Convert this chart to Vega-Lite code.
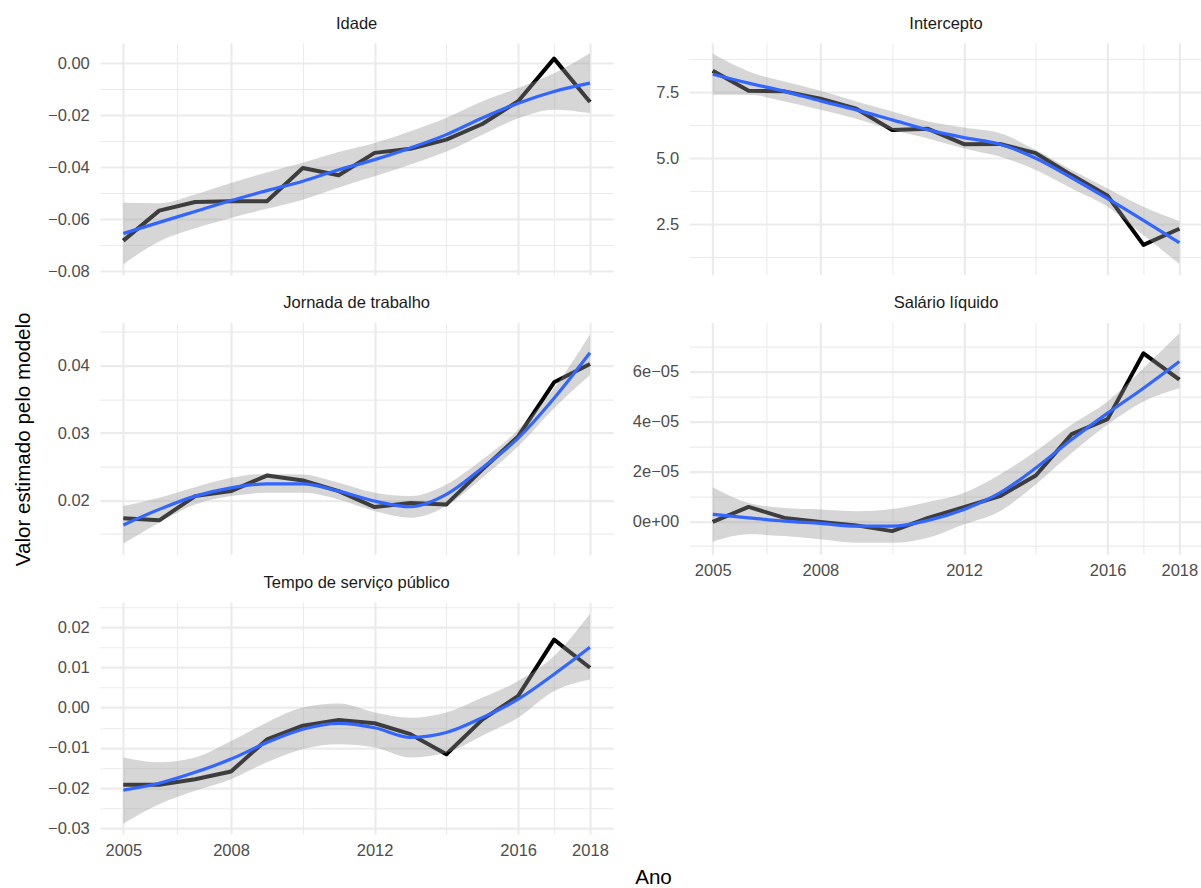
{
  "$schema": "https://vega.github.io/schema/vega-lite/v6.json",
  "padding": {"left": 13, "top": 15, "right": 0, "bottom": 0},
  "background": "white",
  "columns": 2,
  "spacing": {"row": 47.6, "column": 75.4},
  "bounds": "flush",
  "datasets": {
    "observado": [
      {"painel": "Idade", "ano": 2005, "valor": -0.0682},
      {"painel": "Idade", "ano": 2006, "valor": -0.0567},
      {"painel": "Idade", "ano": 2007, "valor": -0.0534},
      {"painel": "Idade", "ano": 2008, "valor": -0.0531},
      {"painel": "Idade", "ano": 2009, "valor": -0.0531},
      {"painel": "Idade", "ano": 2010, "valor": -0.0403},
      {"painel": "Idade", "ano": 2011, "valor": -0.0431},
      {"painel": "Idade", "ano": 2012, "valor": -0.0345},
      {"painel": "Idade", "ano": 2013, "valor": -0.0329},
      {"painel": "Idade", "ano": 2014, "valor": -0.0294},
      {"painel": "Idade", "ano": 2015, "valor": -0.0234},
      {"painel": "Idade", "ano": 2016, "valor": -0.0147},
      {"painel": "Idade", "ano": 2017, "valor": 0.0017},
      {"painel": "Idade", "ano": 2018, "valor": -0.0150},
      {"painel": "Intercepto", "ano": 2005, "valor": 8.31},
      {"painel": "Intercepto", "ano": 2006, "valor": 7.55},
      {"painel": "Intercepto", "ano": 2007, "valor": 7.53},
      {"painel": "Intercepto", "ano": 2008, "valor": 7.25},
      {"painel": "Intercepto", "ano": 2009, "valor": 6.87},
      {"painel": "Intercepto", "ano": 2010, "valor": 6.07},
      {"painel": "Intercepto", "ano": 2011, "valor": 6.11},
      {"painel": "Intercepto", "ano": 2012, "valor": 5.53},
      {"painel": "Intercepto", "ano": 2013, "valor": 5.54},
      {"painel": "Intercepto", "ano": 2014, "valor": 5.19},
      {"painel": "Intercepto", "ano": 2015, "valor": 4.36},
      {"painel": "Intercepto", "ano": 2016, "valor": 3.58},
      {"painel": "Intercepto", "ano": 2017, "valor": 1.72},
      {"painel": "Intercepto", "ano": 2018, "valor": 2.33},
      {"painel": "Jornada de trabalho", "ano": 2005, "valor": 0.01734},
      {"painel": "Jornada de trabalho", "ano": 2006, "valor": 0.01704},
      {"painel": "Jornada de trabalho", "ano": 2007, "valor": 0.02064},
      {"painel": "Jornada de trabalho", "ano": 2008, "valor": 0.02138},
      {"painel": "Jornada de trabalho", "ano": 2009, "valor": 0.02369},
      {"painel": "Jornada de trabalho", "ano": 2010, "valor": 0.02296},
      {"painel": "Jornada de trabalho", "ano": 2011, "valor": 0.02138},
      {"painel": "Jornada de trabalho", "ano": 2012, "valor": 0.01901},
      {"painel": "Jornada de trabalho", "ano": 2013, "valor": 0.01960},
      {"painel": "Jornada de trabalho", "ano": 2014, "valor": 0.01941},
      {"painel": "Jornada de trabalho", "ano": 2015, "valor": 0.02458},
      {"painel": "Jornada de trabalho", "ano": 2016, "valor": 0.02951},
      {"painel": "Jornada de trabalho", "ano": 2017, "valor": 0.03754},
      {"painel": "Jornada de trabalho", "ano": 2018, "valor": 0.04025},
      {"painel": "Salário líquido", "ano": 2005, "valor": -0.0000003},
      {"painel": "Salário líquido", "ano": 2006, "valor": 0.0000057},
      {"painel": "Salário líquido", "ano": 2007, "valor": 0.0000013},
      {"painel": "Salário líquido", "ano": 2008, "valor": -0.0000003},
      {"painel": "Salário líquido", "ano": 2009, "valor": -0.0000017},
      {"painel": "Salário líquido", "ano": 2010, "valor": -0.0000040},
      {"painel": "Salário líquido", "ano": 2011, "valor": 0.0000013},
      {"painel": "Salário líquido", "ano": 2012, "valor": 0.0000056},
      {"painel": "Salário líquido", "ano": 2013, "valor": 0.0000100},
      {"painel": "Salário líquido", "ano": 2014, "valor": 0.0000183},
      {"painel": "Salário líquido", "ano": 2015, "valor": 0.0000349},
      {"painel": "Salário líquido", "ano": 2016, "valor": 0.0000409},
      {"painel": "Salário líquido", "ano": 2017, "valor": 0.0000673},
      {"painel": "Salário líquido", "ano": 2018, "valor": 0.0000567},
      {"painel": "Tempo de serviço público", "ano": 2005, "valor": -0.0192},
      {"painel": "Tempo de serviço público", "ano": 2006, "valor": -0.0192},
      {"painel": "Tempo de serviço público", "ano": 2007, "valor": -0.0178},
      {"painel": "Tempo de serviço público", "ano": 2008, "valor": -0.0159},
      {"painel": "Tempo de serviço público", "ano": 2009, "valor": -0.0079},
      {"painel": "Tempo de serviço público", "ano": 2010, "valor": -0.0045},
      {"painel": "Tempo de serviço público", "ano": 2011, "valor": -0.0031},
      {"painel": "Tempo de serviço público", "ano": 2012, "valor": -0.0039},
      {"painel": "Tempo de serviço público", "ano": 2013, "valor": -0.0066},
      {"painel": "Tempo de serviço público", "ano": 2014, "valor": -0.0116},
      {"painel": "Tempo de serviço público", "ano": 2015, "valor": -0.0030},
      {"painel": "Tempo de serviço público", "ano": 2016, "valor": 0.0029},
      {"painel": "Tempo de serviço público", "ano": 2017, "valor": 0.0169},
      {"painel": "Tempo de serviço público", "ano": 2018, "valor": 0.0099}
    ],
    "suavizado": [
      {"painel": "Idade", "ano": 2005, "ajuste": -0.0655, "inf": -0.0773, "sup": -0.0537},
      {"painel": "Idade", "ano": 2006, "ajuste": -0.0612, "inf": -0.0685, "sup": -0.0539},
      {"painel": "Idade", "ano": 2007, "ajuste": -0.0570, "inf": -0.0635, "sup": -0.0505},
      {"painel": "Idade", "ano": 2008, "ajuste": -0.0528, "inf": -0.0595, "sup": -0.0461},
      {"painel": "Idade", "ano": 2009, "ajuste": -0.0490, "inf": -0.0560, "sup": -0.0420},
      {"painel": "Idade", "ano": 2010, "ajuste": -0.0454, "inf": -0.0525, "sup": -0.0383},
      {"painel": "Idade", "ano": 2011, "ajuste": -0.0410, "inf": -0.0478, "sup": -0.0342},
      {"painel": "Idade", "ano": 2012, "ajuste": -0.0371, "inf": -0.0435, "sup": -0.0307},
      {"painel": "Idade", "ano": 2013, "ajuste": -0.0326, "inf": -0.0390, "sup": -0.0262},
      {"painel": "Idade", "ano": 2014, "ajuste": -0.0275, "inf": -0.0340, "sup": -0.0210},
      {"painel": "Idade", "ano": 2015, "ajuste": -0.0211, "inf": -0.0275, "sup": -0.0147},
      {"painel": "Idade", "ano": 2016, "ajuste": -0.0154, "inf": -0.0212, "sup": -0.0096},
      {"painel": "Idade", "ano": 2017, "ajuste": -0.0109, "inf": -0.0179, "sup": -0.0039},
      {"painel": "Idade", "ano": 2018, "ajuste": -0.0077, "inf": -0.0192, "sup": 0.0038},
      {"painel": "Intercepto", "ano": 2005, "ajuste": 8.18, "inf": 7.40, "sup": 8.96},
      {"painel": "Intercepto", "ano": 2006, "ajuste": 7.84, "inf": 7.40, "sup": 8.28},
      {"painel": "Intercepto", "ano": 2007, "ajuste": 7.53, "inf": 7.15, "sup": 7.90},
      {"painel": "Intercepto", "ano": 2008, "ajuste": 7.17, "inf": 6.83, "sup": 7.55},
      {"painel": "Intercepto", "ano": 2009, "ajuste": 6.83, "inf": 6.49, "sup": 7.15},
      {"painel": "Intercepto", "ano": 2010, "ajuste": 6.45, "inf": 6.07, "sup": 6.77},
      {"painel": "Intercepto", "ano": 2011, "ajuste": 6.07, "inf": 5.75, "sup": 6.39},
      {"painel": "Intercepto", "ano": 2012, "ajuste": 5.78, "inf": 5.37, "sup": 6.16},
      {"painel": "Intercepto", "ano": 2013, "ajuste": 5.53, "inf": 5.06, "sup": 5.94},
      {"painel": "Intercepto", "ano": 2014, "ajuste": 5.00, "inf": 4.55, "sup": 5.31},
      {"painel": "Intercepto", "ano": 2015, "ajuste": 4.26, "inf": 3.85, "sup": 4.55},
      {"painel": "Intercepto", "ano": 2016, "ajuste": 3.47, "inf": 3.16, "sup": 3.85},
      {"painel": "Intercepto", "ano": 2017, "ajuste": 2.65, "inf": 2.08, "sup": 3.16},
      {"painel": "Intercepto", "ano": 2018, "ajuste": 1.80, "inf": 1.00, "sup": 2.62},
      {"painel": "Jornada de trabalho", "ano": 2005, "ajuste": 0.01635, "inf": 0.01360, "sup": 0.01916},
      {"painel": "Jornada de trabalho", "ano": 2006, "ajuste": 0.01867, "inf": 0.01670, "sup": 0.02040},
      {"painel": "Jornada de trabalho", "ano": 2007, "ajuste": 0.02064, "inf": 0.01940, "sup": 0.02197},
      {"painel": "Jornada de trabalho", "ano": 2008, "ajuste": 0.02187, "inf": 0.02064, "sup": 0.02335},
      {"painel": "Jornada de trabalho", "ano": 2009, "ajuste": 0.02246, "inf": 0.02113, "sup": 0.02394},
      {"painel": "Jornada de trabalho", "ano": 2010, "ajuste": 0.02246, "inf": 0.02113, "sup": 0.02384},
      {"painel": "Jornada de trabalho", "ano": 2011, "ajuste": 0.02138, "inf": 0.02015, "sup": 0.02261},
      {"painel": "Jornada de trabalho", "ano": 2012, "ajuste": 0.01990, "inf": 0.01842, "sup": 0.02113},
      {"painel": "Jornada de trabalho", "ano": 2013, "ajuste": 0.01906, "inf": 0.01744, "sup": 0.02064},
      {"painel": "Jornada de trabalho", "ano": 2014, "ajuste": 0.02089, "inf": 0.01916, "sup": 0.02236},
      {"painel": "Jornada de trabalho", "ano": 2015, "ajuste": 0.02483, "inf": 0.02335, "sup": 0.02606},
      {"painel": "Jornada de trabalho", "ano": 2016, "ajuste": 0.02926, "inf": 0.02803, "sup": 0.03049},
      {"painel": "Jornada de trabalho", "ano": 2017, "ajuste": 0.03517, "inf": 0.03370, "sup": 0.03665},
      {"painel": "Jornada de trabalho", "ano": 2018, "ajuste": 0.04192, "inf": 0.03862, "sup": 0.04463},
      {"painel": "Salário líquido", "ano": 2005, "ajuste": 0.0000027, "inf": -0.0000083, "sup": 0.0000136},
      {"painel": "Salário líquido", "ano": 2006, "ajuste": 0.0000013, "inf": -0.0000053, "sup": 0.0000073},
      {"painel": "Salário líquido", "ano": 2007, "ajuste": 0.0000000, "inf": -0.0000060, "sup": 0.0000053},
      {"painel": "Salário líquido", "ano": 2008, "ajuste": -0.0000009, "inf": -0.0000073, "sup": 0.0000047},
      {"painel": "Salário líquido", "ano": 2009, "ajuste": -0.0000020, "inf": -0.0000087, "sup": 0.0000040},
      {"painel": "Salário líquido", "ano": 2010, "ajuste": -0.0000020, "inf": -0.0000087, "sup": 0.0000049},
      {"painel": "Salário líquido", "ano": 2011, "ajuste": 0.0000003, "inf": -0.0000067, "sup": 0.0000077},
      {"painel": "Salário líquido", "ano": 2012, "ajuste": 0.0000047, "inf": -0.0000013, "sup": 0.0000113},
      {"painel": "Salário líquido", "ano": 2013, "ajuste": 0.0000113, "inf": 0.0000040, "sup": 0.0000187},
      {"painel": "Salário líquido", "ano": 2014, "ajuste": 0.0000213, "inf": 0.0000147, "sup": 0.0000280},
      {"painel": "Salário líquido", "ano": 2015, "ajuste": 0.0000327, "inf": 0.0000273, "sup": 0.0000387},
      {"painel": "Salário líquido", "ano": 2016, "ajuste": 0.0000433, "inf": 0.0000387, "sup": 0.0000480},
      {"painel": "Salário líquido", "ano": 2017, "ajuste": 0.0000533, "inf": 0.0000480, "sup": 0.0000613},
      {"painel": "Salário líquido", "ano": 2018, "ajuste": 0.0000640, "inf": 0.0000533, "sup": 0.0000753},
      {"painel": "Tempo de serviço público", "ano": 2005, "ajuste": -0.0205, "inf": -0.0288, "sup": -0.0124},
      {"painel": "Tempo de serviço público", "ano": 2006, "ajuste": -0.0188, "inf": -0.0240, "sup": -0.0136},
      {"painel": "Tempo de serviço público", "ano": 2007, "ajuste": -0.0161, "inf": -0.0207, "sup": -0.0124},
      {"painel": "Tempo de serviço público", "ano": 2008, "ajuste": -0.0128, "inf": -0.0178, "sup": -0.0083},
      {"painel": "Tempo de serviço público", "ano": 2009, "ajuste": -0.0087, "inf": -0.0136, "sup": -0.0037},
      {"painel": "Tempo de serviço público", "ano": 2010, "ajuste": -0.0054, "inf": -0.0103, "sup": 0.0000},
      {"painel": "Tempo de serviço público", "ano": 2011, "ajuste": -0.0039, "inf": -0.0091, "sup": 0.0010},
      {"painel": "Tempo de serviço público", "ano": 2012, "ajuste": -0.0050, "inf": -0.0099, "sup": -0.0012},
      {"painel": "Tempo de serviço público", "ano": 2013, "ajuste": -0.0074, "inf": -0.0124, "sup": -0.0025},
      {"painel": "Tempo de serviço público", "ano": 2014, "ajuste": -0.0062, "inf": -0.0112, "sup": -0.0012},
      {"painel": "Tempo de serviço público", "ano": 2015, "ajuste": -0.0025, "inf": -0.0070, "sup": 0.0025},
      {"painel": "Tempo de serviço público", "ano": 2016, "ajuste": 0.0021, "inf": -0.0025, "sup": 0.0066},
      {"painel": "Tempo de serviço público", "ano": 2017, "ajuste": 0.0083, "inf": 0.0041, "sup": 0.0128},
      {"painel": "Tempo de serviço público", "ano": 2018, "ajuste": 0.0150, "inf": 0.0070, "sup": 0.0233}
    ]
  },
  "concat": [
    {
      "title": "Idade",
      "width": 513.3,
      "height": 231.7,
      "layer": [
        {
          "data": {"name": "observado"},
          "transform": [{"filter": "datum.painel === 'Idade'"}],
          "mark": {"type": "line", "color": "black", "strokeWidth": 4, "strokeJoin": "round"},
          "encoding": {
            "x": {"field": "ano", "type": "quantitative", "title": null,
              "scale": {"domain": [2004.35, 2018.65], "nice": false, "zero": false},
              "axis": {"values": [2005, 2006.5, 2008, 2010, 2012, 2014, 2016, 2017, 2018], "tickCount": 100, "labels": false,
                "gridWidth": {"condition": {"test": "indexof([2005,2008,2012,2016,2018], datum.value) >= 0", "value": 2.2}, "value": 1.1}}},
            "y": {"field": "valor", "type": "quantitative", "title": "Valor estimado pelo modelo",
              "scale": {"domain": [-0.0813, 0.0077], "nice": false, "zero": false},
              "axis": {"values": [-0.08, -0.07, -0.06, -0.05, -0.04, -0.03, -0.02, -0.01, 0], "tickCount": 100,
                "labelExpr": "indexof([-0.08,-0.06,-0.04,-0.02,0], datum.value) >= 0 ? format(datum.value, '.2f') : ''",
                "labelFontSize": {"condition": {"test": "indexof([-0.08,-0.06,-0.04,-0.02,0], datum.value) >= 0", "value": 16.5}, "value": 0},
                "titleX": -71, "titleY": 395.8, "titleBaseline": "alphabetic", "titleAlign": "center",
                "gridWidth": {"condition": {"test": "indexof([-0.08,-0.06,-0.04,-0.02,0], datum.value) >= 0", "value": 2.2}, "value": 1.1}}}
          }
        },
        {
          "data": {"name": "suavizado"},
          "transform": [{"filter": "datum.painel === 'Idade'"}],
          "mark": {"type": "area", "color": "#999999", "opacity": 0.4, "interpolate": "monotone"},
          "encoding": {
            "x": {"field": "ano", "type": "quantitative", "title": null},
            "y": {"field": "sup", "type": "quantitative", "title": "Valor estimado pelo modelo"},
            "y2": {"field": "inf"}
          }
        },
        {
          "data": {"name": "suavizado"},
          "transform": [{"filter": "datum.painel === 'Idade'"}],
          "mark": {"type": "line", "color": "#3366FF", "strokeWidth": 3.2, "interpolate": "monotone"},
          "encoding": {
            "x": {"field": "ano", "type": "quantitative", "title": null},
            "y": {"field": "ajuste", "type": "quantitative", "title": "Valor estimado pelo modelo"}
          }
        }
      ]
    },
    {
      "title": "Intercepto",
      "width": 513.3,
      "height": 231.7,
      "layer": [
        {
          "data": {"name": "observado"},
          "transform": [{"filter": "datum.painel === 'Intercepto'"}],
          "mark": {"type": "line", "color": "black", "strokeWidth": 4, "strokeJoin": "round"},
          "encoding": {
            "x": {"field": "ano", "type": "quantitative", "title": null,
              "scale": {"domain": [2004.35, 2018.65], "nice": false, "zero": false},
              "axis": {"values": [2005, 2006.5, 2008, 2010, 2012, 2014, 2016, 2017, 2018], "tickCount": 100, "labels": false,
                "gridWidth": {"condition": {"test": "indexof([2005,2008,2012,2016,2018], datum.value) >= 0", "value": 2.2}, "value": 1.1}}},
            "y": {"field": "valor", "type": "quantitative", "title": null,
              "scale": {"domain": [0.59, 9.36], "nice": false, "zero": false},
              "axis": {"values": [1.25, 2.5, 3.75, 5, 6.25, 7.5, 8.75], "tickCount": 100,
                "labelExpr": "indexof([2.5,5,7.5], datum.value) >= 0 ? format(datum.value, '.1f') : ''",
                "labelFontSize": {"condition": {"test": "indexof([2.5,5,7.5], datum.value) >= 0", "value": 16.5}, "value": 0},
                "gridWidth": {"condition": {"test": "indexof([2.5,5,7.5], datum.value) >= 0", "value": 2.2}, "value": 1.1}}}
          }
        },
        {
          "data": {"name": "suavizado"},
          "transform": [{"filter": "datum.painel === 'Intercepto'"}],
          "mark": {"type": "area", "color": "#999999", "opacity": 0.4, "interpolate": "monotone"},
          "encoding": {
            "x": {"field": "ano", "type": "quantitative", "title": null},
            "y": {"field": "sup", "type": "quantitative", "title": null},
            "y2": {"field": "inf"}
          }
        },
        {
          "data": {"name": "suavizado"},
          "transform": [{"filter": "datum.painel === 'Intercepto'"}],
          "mark": {"type": "line", "color": "#3366FF", "strokeWidth": 3.2, "interpolate": "monotone"},
          "encoding": {
            "x": {"field": "ano", "type": "quantitative", "title": null},
            "y": {"field": "ajuste", "type": "quantitative", "title": null}
          }
        }
      ]
    },
    {
      "title": "Jornada de trabalho",
      "width": 513.3,
      "height": 231.7,
      "layer": [
        {
          "data": {"name": "observado"},
          "transform": [{"filter": "datum.painel === 'Jornada de trabalho'"}],
          "mark": {"type": "line", "color": "black", "strokeWidth": 4, "strokeJoin": "round"},
          "encoding": {
            "x": {"field": "ano", "type": "quantitative", "title": null,
              "scale": {"domain": [2004.35, 2018.65], "nice": false, "zero": false},
              "axis": {"values": [2005, 2006.5, 2008, 2010, 2012, 2014, 2016, 2017, 2018], "tickCount": 100, "labels": false,
                "gridWidth": {"condition": {"test": "indexof([2005,2008,2012,2016,2018], datum.value) >= 0", "value": 2.2}, "value": 1.1}}},
            "y": {"field": "valor", "type": "quantitative", "title": null,
              "scale": {"domain": [0.0120, 0.0464], "nice": false, "zero": false},
              "axis": {"values": [0.015, 0.02, 0.025, 0.03, 0.035, 0.04, 0.045], "tickCount": 100,
                "labelExpr": "indexof([0.02,0.03,0.04], datum.value) >= 0 ? format(datum.value, '.2f') : ''",
                "labelFontSize": {"condition": {"test": "indexof([0.02,0.03,0.04], datum.value) >= 0", "value": 16.5}, "value": 0},
                "gridWidth": {"condition": {"test": "indexof([0.02,0.03,0.04], datum.value) >= 0", "value": 2.2}, "value": 1.1}}}
          }
        },
        {
          "data": {"name": "suavizado"},
          "transform": [{"filter": "datum.painel === 'Jornada de trabalho'"}],
          "mark": {"type": "area", "color": "#999999", "opacity": 0.4, "interpolate": "monotone"},
          "encoding": {
            "x": {"field": "ano", "type": "quantitative", "title": null},
            "y": {"field": "sup", "type": "quantitative", "title": null},
            "y2": {"field": "inf"}
          }
        },
        {
          "data": {"name": "suavizado"},
          "transform": [{"filter": "datum.painel === 'Jornada de trabalho'"}],
          "mark": {"type": "line", "color": "#3366FF", "strokeWidth": 3.2, "interpolate": "monotone"},
          "encoding": {
            "x": {"field": "ano", "type": "quantitative", "title": null},
            "y": {"field": "ajuste", "type": "quantitative", "title": null}
          }
        }
      ]
    },
    {
      "title": "Salário líquido",
      "width": 513.3,
      "height": 231.7,
      "layer": [
        {
          "data": {"name": "observado"},
          "transform": [{"filter": "datum.painel === 'Salário líquido'"}],
          "mark": {"type": "line", "color": "black", "strokeWidth": 4, "strokeJoin": "round"},
          "encoding": {
            "x": {"field": "ano", "type": "quantitative", "title": null,
              "scale": {"domain": [2004.35, 2018.65], "nice": false, "zero": false},
              "axis": {"values": [2005, 2006.5, 2008, 2010, 2012, 2014, 2016, 2017, 2018], "tickCount": 100,
                "labelExpr": "indexof([2005,2008,2012,2016,2018], datum.value) >= 0 ? format(datum.value, 'd') : ''",
                "gridWidth": {"condition": {"test": "indexof([2005,2008,2012,2016,2018], datum.value) >= 0", "value": 2.2}, "value": 1.1}}},
            "y": {"field": "valor", "type": "quantitative", "title": null,
              "scale": {"domain": [-0.0000133, 0.0000796], "nice": false, "zero": false},
              "axis": {"values": [-0.00001, 0, 0.00001, 0.00002, 0.00003, 0.00004, 0.00005, 0.00006, 0.00007], "tickCount": 100,
                "labelExpr": "indexof([0,0.00002,0.00004,0.00006], datum.value) >= 0 ? (datum.value === 0 ? '0e+00' : format(datum.value * 100000, '.0f') + 'e\u221205') : ''",
                "labelFontSize": {"condition": {"test": "indexof([0,0.00002,0.00004,0.00006], datum.value) >= 0", "value": 16.5}, "value": 0},
                "gridWidth": {"condition": {"test": "indexof([0,0.00002,0.00004,0.00006], datum.value) >= 0", "value": 2.2}, "value": 1.1}}}
          }
        },
        {
          "data": {"name": "suavizado"},
          "transform": [{"filter": "datum.painel === 'Salário líquido'"}],
          "mark": {"type": "area", "color": "#999999", "opacity": 0.4, "interpolate": "monotone"},
          "encoding": {
            "x": {"field": "ano", "type": "quantitative", "title": null},
            "y": {"field": "sup", "type": "quantitative", "title": null},
            "y2": {"field": "inf"}
          }
        },
        {
          "data": {"name": "suavizado"},
          "transform": [{"filter": "datum.painel === 'Salário líquido'"}],
          "mark": {"type": "line", "color": "#3366FF", "strokeWidth": 3.2, "interpolate": "monotone"},
          "encoding": {
            "x": {"field": "ano", "type": "quantitative", "title": null},
            "y": {"field": "ajuste", "type": "quantitative", "title": null}
          }
        }
      ]
    },
    {
      "title": "Tempo de serviço público",
      "width": 513.3,
      "height": 231.7,
      "layer": [
        {
          "data": {"name": "observado"},
          "transform": [{"filter": "datum.painel === 'Tempo de serviço público'"}],
          "mark": {"type": "line", "color": "black", "strokeWidth": 4, "strokeJoin": "round"},
          "encoding": {
            "x": {"field": "ano", "type": "quantitative", "title": "Ano",
              "scale": {"domain": [2004.35, 2018.65], "nice": false, "zero": false},
              "axis": {"values": [2005, 2006.5, 2008, 2010, 2012, 2014, 2016, 2017, 2018], "tickCount": 100,
                "labelExpr": "indexof([2005,2008,2012,2016,2018], datum.value) >= 0 ? format(datum.value, 'd') : ''",
                "titleX": 553, "titleY": 50, "titleBaseline": "alphabetic", "titleAlign": "center",
                "gridWidth": {"condition": {"test": "indexof([2005,2008,2012,2016,2018], datum.value) >= 0", "value": 2.2}, "value": 1.1}}},
            "y": {"field": "valor", "type": "quantitative", "title": null,
              "scale": {"domain": [-0.0314, 0.0262], "nice": false, "zero": false},
              "axis": {"values": [-0.03, -0.025, -0.02, -0.015, -0.01, -0.005, 0, 0.005, 0.01, 0.015, 0.02, 0.025], "tickCount": 100,
                "labelExpr": "indexof([-0.03,-0.02,-0.01,0,0.01,0.02], datum.value) >= 0 ? format(datum.value, '.2f') : ''",
                "labelFontSize": {"condition": {"test": "indexof([-0.03,-0.02,-0.01,0,0.01,0.02], datum.value) >= 0", "value": 16.5}, "value": 0},
                "gridWidth": {"condition": {"test": "indexof([-0.03,-0.02,-0.01,0,0.01,0.02], datum.value) >= 0", "value": 2.2}, "value": 1.1}}}
          }
        },
        {
          "data": {"name": "suavizado"},
          "transform": [{"filter": "datum.painel === 'Tempo de serviço público'"}],
          "mark": {"type": "area", "color": "#999999", "opacity": 0.4, "interpolate": "monotone"},
          "encoding": {
            "x": {"field": "ano", "type": "quantitative", "title": "Ano"},
            "y": {"field": "sup", "type": "quantitative", "title": null},
            "y2": {"field": "inf"}
          }
        },
        {
          "data": {"name": "suavizado"},
          "transform": [{"filter": "datum.painel === 'Tempo de serviço público'"}],
          "mark": {"type": "line", "color": "#3366FF", "strokeWidth": 3.2, "interpolate": "monotone"},
          "encoding": {
            "x": {"field": "ano", "type": "quantitative", "title": "Ano"},
            "y": {"field": "ajuste", "type": "quantitative", "title": null}
          }
        }
      ]
    }
  ],
  "config": {
    "view": {"stroke": null},
    "font": "Liberation Sans",
    "axis": {
      "domain": false,
      "ticks": false,
      "tickSize": 0,
      "gridColor": "#EBEBEB",
      "labelFont": "Liberation Sans",
      "labelFontSize": 16.5,
      "labelColor": "#4D4D4D",
      "labelOverlap": false,
      "labelFlush": false,
      "labelBound": false,
      "titleFont": "Liberation Sans",
      "titleFontSize": 20.6,
      "titleFontWeight": "normal",
      "titleColor": "black"
    },
    "axisY": {"labelPadding": 10.7, "labelBaseline": "middle"},
    "axisX": {"labelPadding": 21.5, "labelBaseline": "alphabetic"},
    "title": {
      "font": "Liberation Sans",
      "fontSize": 16.5,
      "fontWeight": "normal",
      "color": "#1A1A1A",
      "baseline": "alphabetic",
      "offset": 11,
      "anchor": "middle",
      "frame": "group"
    }
  }
}
